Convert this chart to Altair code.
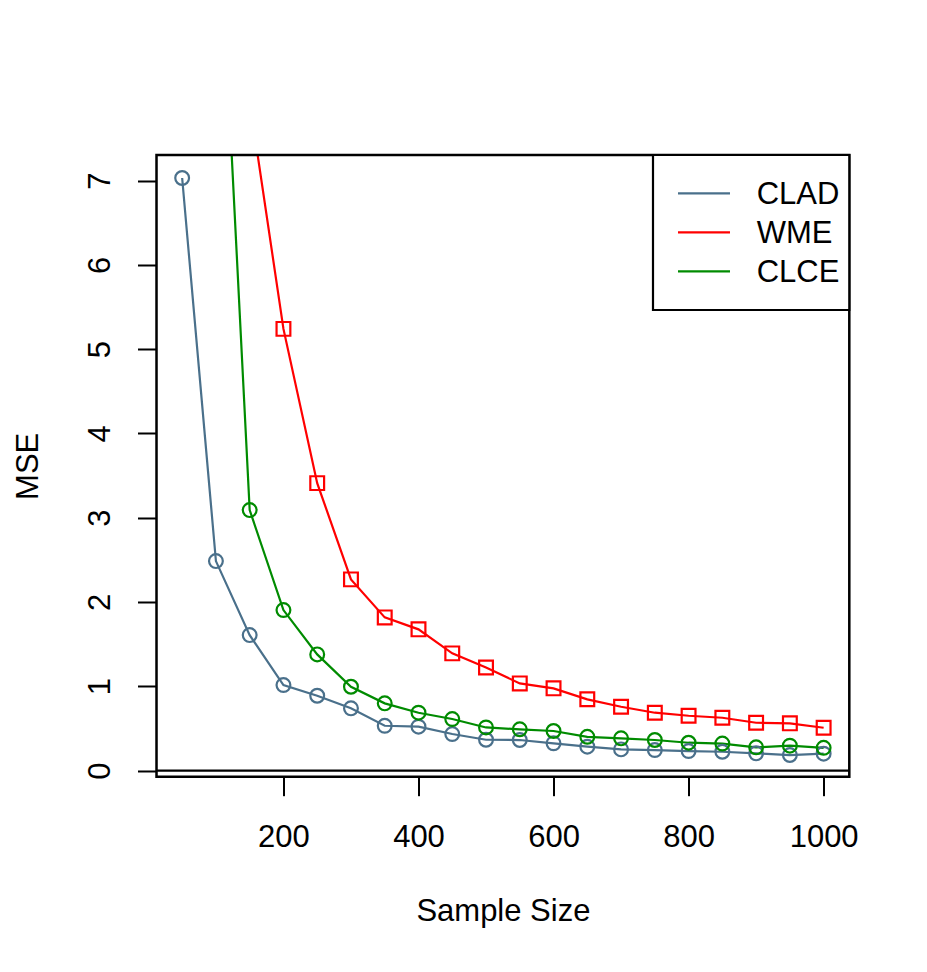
import altair as alt
import pandas as pd

# ---- data ----
sample_size = [50, 100, 150, 200, 250, 300, 350, 400, 450, 500,
               550, 600, 650, 700, 750, 800, 850, 900, 950, 1000]
clad = [7.03, 2.485, 1.607, 1.014, 0.887, 0.738, 0.531, 0.52, 0.433, 0.365,
        0.362, 0.323, 0.283, 0.251, 0.243, 0.231, 0.223, 0.204, 0.184, 0.2]
wme = [None, None, 7.94, 5.24, 3.41, 2.268, 1.817, 1.675, 1.39, 1.222,
       1.034, 0.975, 0.845, 0.757, 0.686, 0.65, 0.626, 0.567, 0.56, 0.508]
clce = [None, 11.0, 3.09, 1.904, 1.378, 0.994, 0.797, 0.686, 0.611, 0.511,
        0.489, 0.469, 0.40, 0.382, 0.362, 0.33, 0.32, 0.275, 0.295, 0.27]

series_names = ["CLAD", "WME", "CLCE"]
series_colors = ["#4A708B", "#FF0000", "#008B00"]
series_shapes = ["circle", "square", "circle"]
x_ticks = [200, 400, 600, 800, 1000]
y_ticks = [0, 1, 2, 3, 4, 5, 6, 7]

rows = []
for name, vals in zip(series_names, [clad, wme, clce]):
    for i, (n, v) in enumerate(zip(sample_size, vals)):
        if v is not None:
            rows.append({"series": name, "n": n, "mse": v, "order": i})
df = pd.DataFrame(rows)

FONT = "Liberation Sans"
FS = 31
W, H = 692.8, 621.7

color_scale = alt.Scale(domain=series_names, range=series_colors)
shape_scale = alt.Scale(domain=series_names, range=series_shapes)
x_scale = alt.Scale(domain=[12, 1038], nice=False, zero=False)
y_scale = alt.Scale(domain=[-0.073, 7.303], nice=False, zero=False)

x_enc = alt.X("n:Q", scale=x_scale,
              axis=alt.Axis(values=x_ticks, format="d", title="Sample Size", grid=False, domain=False,
                            tickSize=19, tickWidth=2, tickColor="black",
                            labelFont=FONT, labelFontSize=FS, labelColor="black",
                            labelBaseline="alphabetic", labelPadding=51,
                            labelFlush=False, labelOverlap=False,
                            titleFont=FONT, titleFontSize=FS, titleFontWeight="normal",
                            titleColor="black", titleBaseline="alphabetic",
                            titleAlign="center", titleX=W / 2, titleY=144))
y_enc = alt.Y("mse:Q", scale=y_scale,
              axis=alt.Axis(values=y_ticks, format="d", title="MSE", grid=False, domain=False,
                            tickSize=19, tickWidth=2, tickColor="black",
                            labelFont=FONT, labelFontSize=FS, labelColor="black",
                            labelAngle=270, labelAlign="center",
                            labelBaseline="alphabetic", labelPadding=28,
                            labelFlush=False, labelOverlap=False,
                            titleFont=FONT, titleFontSize=FS, titleFontWeight="normal",
                            titleColor="black", titleAngle=270, titleAlign="center",
                            titleBaseline="alphabetic", titleX=-119, titleY=H / 2))

base = alt.Chart(df)

lines = base.mark_line(strokeWidth=2.2, clip=True).encode(
    x=x_enc, y=y_enc,
    color=alt.Color("series:N", scale=color_scale, legend=None),
    detail="series:N",
    order="order:Q",
)
points = base.mark_point(filled=False, strokeWidth=2.2, size=190, clip=True, opacity=1).encode(
    x="n:Q", y="mse:Q",
    color=alt.Color("series:N", scale=color_scale, legend=None),
    shape=alt.Shape("series:N", scale=shape_scale, legend=None),
)
zero_rule = alt.Chart(pd.DataFrame({"y0": [0]})).mark_rule(
    color="black", strokeWidth=2.2).encode(y="y0:Q")

main = alt.layer(zero_rule, lines, points)

# ---- plot frame and legend (decoration in pixel space) ----
one = pd.DataFrame({"a": [0]})
frame = alt.Chart(one).mark_rect(
    fill=None, fillOpacity=0, stroke="black", strokeWidth=2.5).encode(
    x=alt.value(0), x2=alt.value(W), y=alt.value(0), y2=alt.value(H))

leg_df = pd.DataFrame({"series": series_names})
leg_y = alt.Y("series:N", sort=series_names,
              scale=alt.Scale(type="point", domain=series_names, range=[38.3, 116.3], padding=0),
              axis=None)
leg_box = alt.Chart(one).mark_rect(
    fill="white", stroke="black", strokeWidth=2.2).encode(
    x=alt.value(496.5), x2=alt.value(W), y=alt.value(0), y2=alt.value(155))
leg_lines = alt.Chart(leg_df).mark_rule(strokeWidth=2.2).encode(
    x=alt.value(521.5), x2=alt.value(573.5), y=leg_y,
    color=alt.Color("series:N", scale=color_scale, legend=None))
leg_text = alt.Chart(leg_df).mark_text(
    align="left", baseline="alphabetic", dy=11, font=FONT, fontSize=FS, color="black").encode(
    x=alt.value(600.2), y=leg_y, text="series:N")
legend = alt.layer(frame, leg_box, leg_lines, leg_text)

chart = alt.layer(main, legend).resolve_scale(y="independent").properties(
    width=W, height=H,
    autosize=alt.AutoSizeParams(type="none"),
    padding={"left": 148.5, "top": 147, "right": 60, "bottom": 180},
).configure_view(stroke=None).configure(background="white")

chart.save("out.html", embed_options={"renderer": "svg", "actions": False})
